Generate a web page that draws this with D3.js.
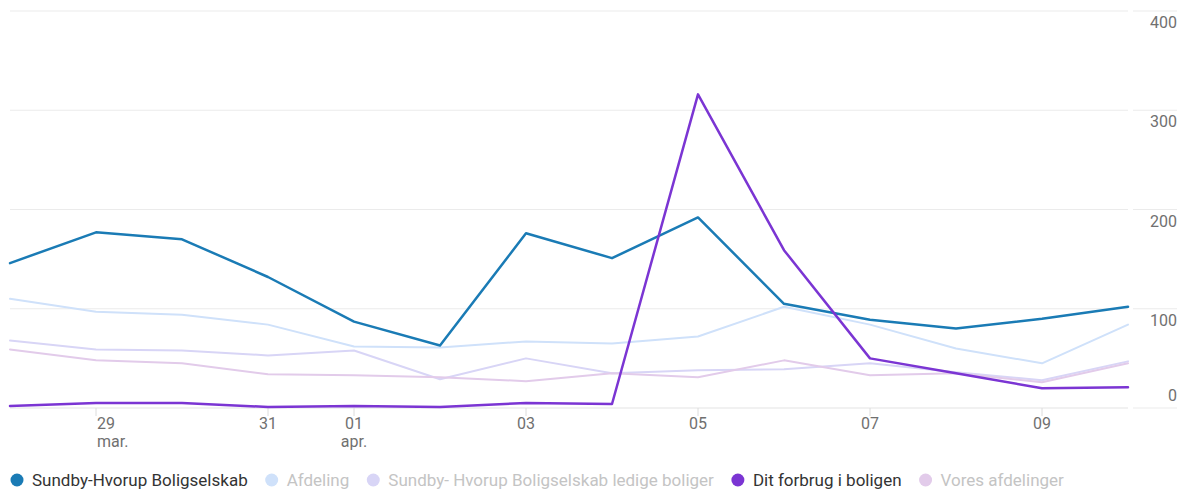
<!DOCTYPE html>
<html><head><meta charset="utf-8">
<script src="https://cdn.jsdelivr.net/npm/d3@7/dist/d3.min.js"></script>
<style>
html,body{margin:0;padding:0;background:#fff;}
svg{display:block;font-family:Roboto,"Noto Sans",sans-serif;}
</style></head>
<body>
<svg id="chart" width="1187" height="490"></svg>
<script>
const dates = ["2023-03-28","2023-03-29","2023-03-30","2023-03-31","2023-04-01","2023-04-02","2023-04-03","2023-04-04","2023-04-05","2023-04-06","2023-04-07","2023-04-08","2023-04-09","2023-04-10"];
const seriesNames = ["Sundby-Hvorup Boligselskab","Afdeling","Sundby- Hvorup Boligselskab ledige boliger","Dit forbrug i boligen","Vores afdelinger"];
const sundby   = [146,177,170,132,87,63,176,151,192,105,89,80,90,102];
const afdeling = [110,97,94,84,62,61,67,65,72,102,84,60,45,84];
const ledige   = [68,59,58,53,58,29,50,35,38,39,45,36,28,47];
const forbrug  = [2,5,5,1,2,1,5,4,316,159,50,35,20,21];
const vores    = [59,48,45,34,33,31,27,35,31,48,33,35,26,45];
const yTicks = [0,100,200,300,400];
const xTickDates = ["2023-03-29","2023-03-31","2023-04-01","2023-04-03","2023-04-05","2023-04-07","2023-04-09"];
const xTickLabels = [["29","mar."],["31"],["01","apr."],["03"],["05"],["07"],["09"]];

const colors = ["#1a7bb5","#cfe1fa","#d8d5f6","#7b35d3","#e2cbea"];
const widths = [2.5,2,2,2.5,2];
const active = [true,false,false,true,false];
const values = [sundby,afdeling,ledige,forbrug,vores];

const svg = d3.select("#chart");
const parse = d3.utcParse("%Y-%m-%d");
const L = 10, R = 1128, T = 11, B = 408;
const x = d3.scaleUtc().domain([parse(dates[0]), parse(dates[dates.length-1])]).range([L, R]);
const y = d3.scaleLinear().domain([0,400]).range([B, T]);

// gridlines
const grid = svg.append("g");
yTicks.forEach(t => {
  grid.append("line").attr("x1",L).attr("x2",R).attr("y1",y(t)).attr("y2",y(t))
    .attr("stroke", t===0 ? "#e3e3e3" : "#ebebeb").attr("stroke-width",1.2);
  grid.append("line").attr("x1",1133).attr("x2",1177).attr("y1",y(t)).attr("y2",y(t))
    .attr("stroke","#ebebeb").attr("stroke-width",1.2);
  grid.append("text").attr("x",1177).attr("y", t===0 ? y(t)-7 : y(t)+17)
    .attr("text-anchor","end").attr("font-size",16).attr("fill","#707070").text(t);
});

// x ticks
xTickDates.forEach((d,i) => {
  const px = x(parse(d));
  svg.append("line").attr("x1",px).attr("x2",px).attr("y1",B).attr("y2",B+8)
    .attr("stroke","#dcdcdc").attr("stroke-width",1);
  const anchor = i===0 ? "start" : "middle";
  xTickLabels[i].forEach((lab,j) => {
    svg.append("text").attr("x", i===0 ? px+1 : px).attr("y", B+21+j*18)
      .attr("text-anchor",anchor).attr("font-size",16).attr("fill","#707070").text(lab);
  });
});

// lines
const line = d3.line().x((d,i)=>x(parse(dates[i]))).y(d=>y(d));
const order = [1,2,4,0,3];
order.forEach(k => {
  svg.append("path").datum(values[k]).attr("d",line)
    .attr("fill","none").attr("stroke",colors[k]).attr("stroke-width",widths[k])
    .attr("stroke-linejoin","round").attr("stroke-linecap","round");
});

// legend
let lx = 17;
const ly = 480;
seriesNames.forEach((n,k) => {
  svg.append("circle").attr("cx",lx).attr("cy",ly).attr("r",6.5).attr("fill",colors[k]);
  const t = svg.append("text").attr("x",lx+15).attr("y",ly+6).attr("font-size",17)
    .attr("fill", active[k] ? "#333" : "#c4c4c4").text(n);
  const w = t.node().getComputedTextLength();
  lx = lx + 15 + w + 24;
});
</script>
</body></html>
